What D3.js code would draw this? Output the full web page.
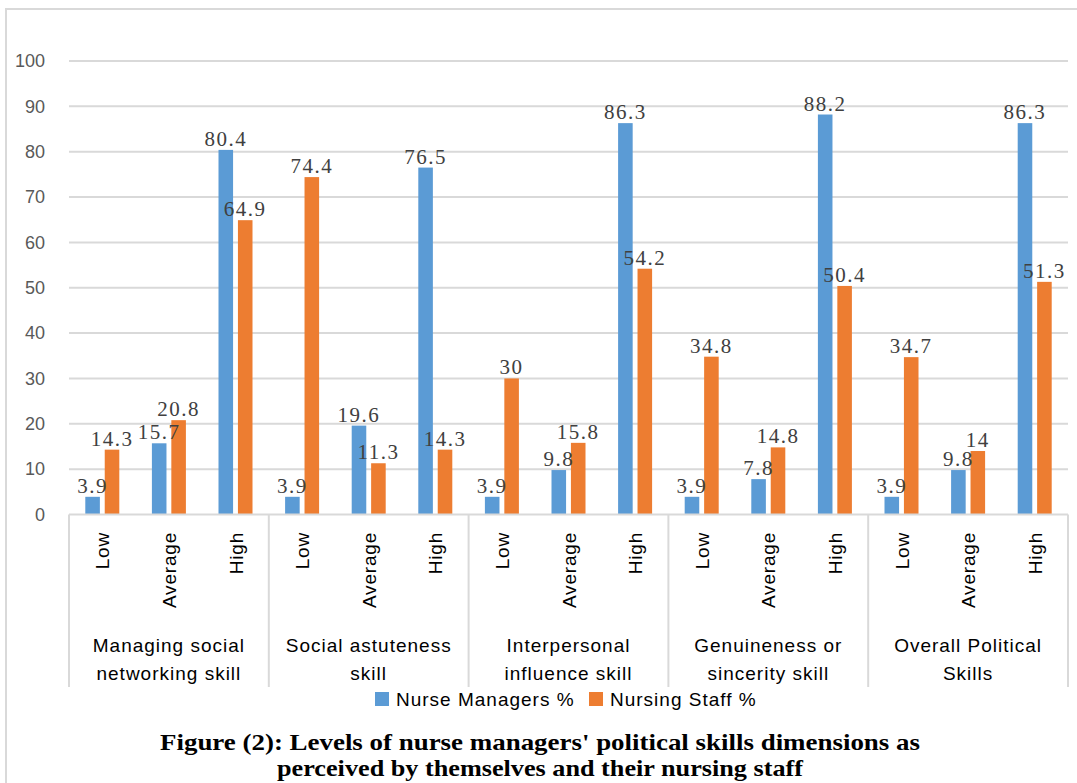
<!DOCTYPE html>
<html>
<head>
<meta charset="utf-8">
<script src="https://cdn.jsdelivr.net/npm/d3@7"></script>
<style>
  body { margin: 0; background: #fff; }
</style>
</head>
<body>
<div id="chart"></div>
<script>
// data
var groups = ["Managing social|networking skill", "Social astuteness|skill", "Interpersonal|influence skill", "Genuineness or|sincerity skill", "Overall Political|Skills"];
var levels = ["Low", "Average", "High"];
var managers = [3.9, 15.7, 80.4, 3.9, 19.6, 76.5, 3.9, 9.8, 86.3, 3.9, 7.8, 88.2, 3.9, 9.8, 86.3];
var staff = [14.3, 20.8, 64.9, 74.4, 11.3, 14.3, 30, 15.8, 54.2, 34.8, 14.8, 50.4, 34.7, 14, 51.3];
var seriesNames = ["Nurse Managers %", "Nursing Staff %"];
var yTicks = [0, 10, 20, 30, 40, 50, 60, 70, 80, 90, 100];
var titleLines = ["Figure (2): Levels of nurse managers' political skills dimensions as", "perceived by  themselves and their nursing staff"];

var svgWidth = 1077, svgHeight = 783;
var colors = ["#5B9BD5", "#ED7D31"];
var sans = "'Liberation Sans', Arial, sans-serif";
var serif = "'Liberation Serif', 'Times New Roman', serif";

var svg = d3.select("#chart").append("svg")
    .attr("width", svgWidth)
    .attr("height", svgHeight)
    .style("background-color", "#fff");

// outer chart frame
svg.append("rect")
    .attr("x", 6).attr("y", 9)
    .attr("width", svgWidth + 20).attr("height", svgHeight + 20)
    .attr("fill", "none").attr("stroke", "#d9d9d9").attr("stroke-width", 2);

var plotLeft = 69, plotRight = 1068;
var y = d3.scaleLinear().domain([0, 100]).range([514.5, 61]);

var cats = [];
groups.forEach(function (g, gi) {
    levels.forEach(function (l, li) {
        cats.push({ key: gi + "-" + li, group: gi, level: l });
    });
});
cats.forEach(function (c, i) { c.m = managers[i]; c.s = staff[i]; });

var x0 = d3.scaleBand().domain(cats.map(function (d) { return d.key; })).range([plotLeft, plotRight]);
var xg = d3.scaleBand().domain(groups).range([plotLeft, plotRight]);
var x1 = d3.scaleBand().domain([0, 1]).range([0, 34]).paddingInner(0.25);
var off = (x0.bandwidth() - 34) / 2;

// gridlines
svg.append("g").selectAll("line")
    .data(yTicks.filter(function (d) { return d > 0; }))
    .enter().append("line")
    .attr("x1", plotLeft).attr("x2", plotRight)
    .attr("y1", function (d) { return y(d); })
    .attr("y2", function (d) { return y(d); })
    .attr("stroke", "#d9d9d9").attr("stroke-width", 2);

// y axis labels
var yAxis = svg.append("g")
    .attr("transform", "translate(" + plotLeft + ",0)")
    .call(d3.axisLeft(y).tickValues(yTicks).tickSize(0).tickPadding(24));
yAxis.select(".domain").remove();
yAxis.selectAll("text")
    .attr("fill", "#595959")
    .style("font-family", sans)
    .style("font-size", "18px");

// bars
var catG = svg.append("g").selectAll("g")
    .data(cats)
    .enter().append("g")
    .attr("transform", function (d) { return "translate(" + (x0(d.key) + off) + ",0)"; });

catG.selectAll("rect")
    .data(function (d) { return [d.m, d.s]; })
    .enter().append("rect")
    .attr("x", function (d, i) { return x1(i); })
    .attr("y", function (d) { return y(d); })
    .attr("width", x1.bandwidth())
    .attr("height", function (d) { return y(0) - y(d); })
    .attr("fill", function (d, i) { return colors[i]; });

catG.selectAll("text")
    .data(function (d) { return [d.m, d.s]; })
    .enter().append("text")
    .attr("x", function (d, i) { return x1(i) + x1.bandwidth() / 2; })
    .attr("y", function (d) { return y(d) - 4; })
    .attr("text-anchor", "middle")
    .attr("fill", "#404040")
    .style("font-family", serif)
    .style("font-size", "21px")
    .style("letter-spacing", "1.5px")
    .text(function (d) { return d; });

// category axis
svg.append("line")
    .attr("x1", plotLeft).attr("x2", plotRight)
    .attr("y1", y(0)).attr("y2", y(0))
    .attr("stroke", "#d9d9d9").attr("stroke-width", 2);

svg.append("g").selectAll("line")
    .data(d3.range(groups.length + 1))
    .enter().append("line")
    .attr("x1", function (i) { return plotLeft + i * xg.bandwidth(); })
    .attr("x2", function (i) { return plotLeft + i * xg.bandwidth(); })
    .attr("y1", y(0)).attr("y2", 687)
    .attr("stroke", "#d9d9d9").attr("stroke-width", 2);

svg.append("g").selectAll("text")
    .data(cats)
    .enter().append("text")
    .attr("transform", function (d) {
        return "translate(" + (x0(d.key) + x0.bandwidth() / 2 + 7) + ",532) rotate(-90)";
    })
    .attr("text-anchor", "end")
    .attr("fill", "#000")
    .style("font-family", sans)
    .style("font-size", "19px")
    .style("letter-spacing", "0.8px")
    .text(function (d) { return d.level; });

var gl = svg.append("g").selectAll("text")
    .data(groups)
    .enter().append("text")
    .attr("x", function (d) { return xg(d) + xg.bandwidth() / 2; })
    .attr("y", 652)
    .attr("text-anchor", "middle")
    .attr("fill", "#000")
    .style("font-family", sans)
    .style("font-size", "19px")
    .style("letter-spacing", "1px");
gl.selectAll("tspan")
    .data(function (d) { return d.split("|"); })
    .enter().append("tspan")
    .attr("x", function () { var g = d3.select(this.parentNode).datum(); return xg(g) + xg.bandwidth() / 2; })
    .attr("dy", function (d, i) { return i === 0 ? 0 : 28; })
    .text(function (d) { return d; });

// legend
var legendX = [375, 589];
var legend = svg.append("g").selectAll("g")
    .data(seriesNames)
    .enter().append("g")
    .attr("transform", function (d, i) { return "translate(" + legendX[i] + ",692)"; });
legend.append("rect")
    .attr("width", 14).attr("height", 14)
    .attr("fill", function (d, i) { return colors[i]; });
legend.append("text")
    .attr("x", 21).attr("y", 14)
    .attr("fill", "#000")
    .style("font-family", sans)
    .style("font-size", "19px")
    .style("letter-spacing", "1px")
    .text(function (d) { return d; });

// figure caption
var titleWidths = [760, 526];
svg.append("g").selectAll("text")
    .data(titleLines)
    .enter().append("text")
    .attr("x", 540)
    .attr("y", function (d, i) { return 750 + i * 26; })
    .attr("text-anchor", "middle")
    .attr("fill", "#000")
    .attr("textLength", function (d, i) { return titleWidths[i]; })
    .attr("lengthAdjust", "spacingAndGlyphs")
    .style("font-family", serif)
    .style("font-weight", "bold")
    .style("font-size", "24px")
    .text(function (d) { return d; });
</script>
</body>
</html>
